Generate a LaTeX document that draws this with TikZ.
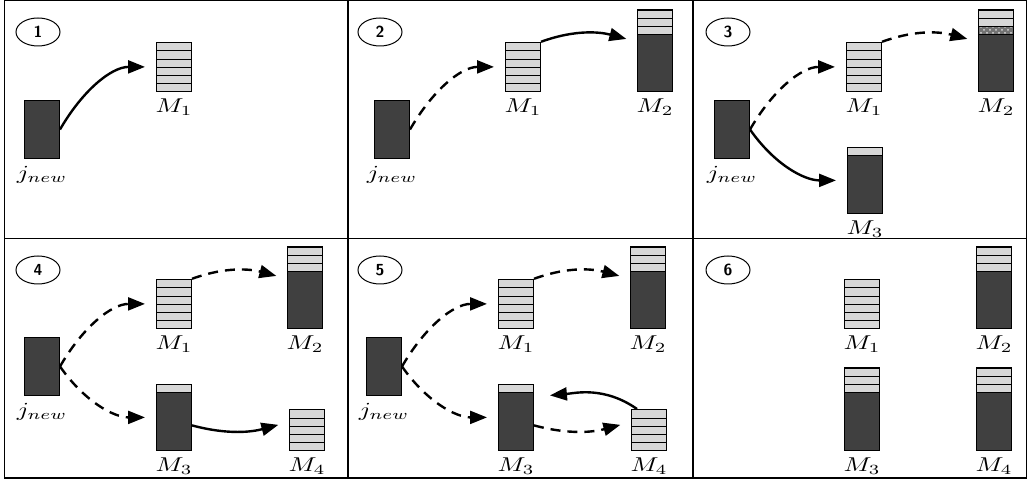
\documentclass[tikz,border=0pt]{standalone}
\usepackage{tikz}
\usetikzlibrary{shapes,arrows.meta,positioning,patterns}
\usepackage{xcolor}
\definecolor{slotgray}{HTML}{D7D7D7}
\definecolor{jobgray}{HTML}{404040}
\tikzstyle{slot} = [draw=black, fill=slotgray, line width=0.5pt]
\tikzstyle{jobbox} = [rectangle, draw=black, fill=jobgray, line width=0.5pt, minimum width=17.5pt, minimum height=29pt, inner sep=0pt]
\tikzstyle{machnode} = [rectangle, draw=black, line width=0.5pt, minimum width=17.5pt, inner sep=0pt]
\tikzstyle{stepnum} = [ellipse, draw=black, line width=0.5pt, minimum width=22pt, minimum height=14pt, inner sep=0pt, font=\sffamily\bfseries\fontsize{8}{9}\selectfont]
\tikzstyle{lbl} = [inner sep=1pt, font=\fontsize{10}{12}\selectfont, xscale=1.3, transform shape]
\tikzstyle{arrow} = [line width=1.2pt, -{Stealth[length=8.5pt, width=6.5pt, inset=0pt]}, shorten >=5.5pt]
\tikzstyle{darrow} = [arrow, dash pattern=on 5pt off 3.5pt]
% machine: name, left x, bottom y, free slots, job height
\newcommand{\machine}[5]{%
  \ifnum#5>0 \fill[jobgray] (#2,#3) rectangle ++(35,-#5); \fi
  \foreach \k in {1,...,#4}{\draw[slot] (#2,{#3-#5-(\k-1)*8.2}) rectangle ++(35,-8.2);}
  \node[machnode, minimum height={(#4*8.2+#5)*0.5pt}, anchor=south west] (#1) at (#2,#3) {};
}

\begin{document}
\begin{tikzpicture}[x=0.5pt, y=-0.5pt]
    \useasboundingbox (0,0) rectangle (1028,480);
    % Frame
    \draw[line width=0.8pt] (4.5,0.5) rectangle (1026.5,478);
    \draw[line width=0.8pt] (348,0.5) -- (348,478);
    \draw[line width=0.8pt] (693,0.5) -- (693,478);
    \draw[line width=0.8pt] (4.5,238.5) -- (1026.5,238.5);

    % Panel 1
    \node[stepnum] (n1) at (38,32) {1};
    \node[jobbox, anchor=south west] (j1) at (24,159) {};
    \machine{ma1}{156}{92}{6}{0}
    \node[lbl, below=2.5pt of j1] (lj1) {$j_{new}$};
    \node[lbl, below=2pt of ma1] (la1) {$M_1$};
    \draw[arrow] (j1.east) to[out=60, in=180] (ma1.west);

    % Panel 2
    \node[stepnum] (n2) at (380,32) {2};
    \node[jobbox, anchor=south west] (j2) at (374,159) {};
    \machine{mb1}{505}{92}{6}{0}
    \machine{mb2}{637}{92}{3}{57}
    \node[lbl, below=2.5pt of j2] (lj2) {$j_{new}$};
    \node[lbl, below=2pt of mb1] (lb1) {$M_1$};
    \node[lbl, below=2pt of mb2] (lb2) {$M_2$};
    \draw[darrow] (j2.east) to[out=60, in=180] (mb1.west);
    \draw[arrow] (mb1.north east) to[out=20, in=165] (mb2.west |- mb1.north);

    % Panel 3
    \node[stepnum] (n3) at (728,32) {3};
    \node[jobbox, anchor=south west] (j3) at (714,159) {};
    \machine{mc1}{846}{92}{6}{0}
    \machine{mc2}{978}{92}{3}{57}
    \fill[black!55] (978,35) rectangle ++(35,-8.2);
    \fill[pattern=crosshatch dots, pattern color=black!15] (978,35) rectangle ++(35,-8.2);
    \draw[line width=0.5pt] (978,35) rectangle ++(35,-8.2);
    \machine{mc3}{847}{214}{1}{58}
    \node[lbl, below=2.5pt of j3] (lj3) {$j_{new}$};
    \node[lbl, below=2pt of mc1] (lc1) {$M_1$};
    \node[lbl, below=2pt of mc2] (lc2) {$M_2$};
    \node[lbl, below=2pt of mc3] (lc3) {$M_3$};
    \draw[darrow] (j3.east) to[out=60, in=180] (mc1.west);
    \draw[darrow] (mc1.north east) to[out=20, in=165] (mc2.west |- mc1.north);
    \draw[arrow] (j3.east) to[out=-55, in=180] (mc3.west);

    % Panel 4
    \node[stepnum] (n4) at (38,270) {4};
    \node[jobbox, anchor=south west] (j4) at (24,396) {};
    \machine{md1}{156}{329}{6}{0}
    \machine{md2}{287}{329}{3}{57}
    \machine{md3}{156}{451}{1}{58}
    \machine{md4}{289}{451}{5}{0}
    \node[lbl, below=2.5pt of j4] (lj4) {$j_{new}$};
    \node[lbl, below=2pt of md1] (ld1) {$M_1$};
    \node[lbl, below=2pt of md2] (ld2) {$M_2$};
    \node[lbl, below=2pt of md3] (ld3) {$M_3$};
    \node[lbl, below=2pt of md4] (ld4) {$M_4$};
    \draw[darrow] (j4.east) to[out=60, in=180] (md1.west);
    \draw[darrow] (md1.north east) to[out=20, in=165] (md2.west |- md1.north);
    \draw[darrow] (j4.east) to[out=-55, in=180] (md3.west);
    \draw[arrow] ([yshift=-4pt]md3.east) to[out=-15, in=195] ([yshift=4pt]md4.west);

    % Panel 5
    \node[stepnum] (n5) at (380,270) {5};
    \node[jobbox, anchor=south west] (j5) at (366,396) {};
    \machine{me1}{498}{329}{6}{0}
    \machine{me2}{630}{329}{3}{57}
    \machine{me3}{498}{451}{1}{58}
    \machine{me4}{631}{451}{5}{0}
    \node[lbl, below=2.5pt of j5] (lj5) {$j_{new}$};
    \node[lbl, below=2pt of me1] (le1) {$M_1$};
    \node[lbl, below=2pt of me2] (le2) {$M_2$};
    \node[lbl, below=2pt of me3] (le3) {$M_3$};
    \node[lbl, below=2pt of me4] (le4) {$M_4$};
    \draw[darrow] (j5.east) to[out=60, in=180] (me1.west);
    \draw[darrow] (me1.north east) to[out=20, in=165] (me2.west |- me1.north);
    \draw[darrow] (j5.east) to[out=-55, in=180] (me3.west);
    \draw[darrow] ([yshift=-4pt]me3.east) to[out=-15, in=195] ([yshift=4pt]me4.west);
    \draw[arrow, shorten >=8pt] ([xshift=3pt]me4.north west) to[out=145, in=5] ([yshift=-6.5pt]me3.north east);

    % Panel 6
    \node[stepnum] (n6) at (728,270) {6};
    \machine{mf1}{844}{329}{6}{0}
    \machine{mf2}{976}{329}{3}{57}
    \machine{mf3}{844}{451}{3}{58}
    \machine{mf4}{976}{451}{3}{58}
    \node[lbl, below=2pt of mf1] (lf1) {$M_1$};
    \node[lbl, below=2pt of mf2] (lf2) {$M_2$};
    \node[lbl, below=2pt of mf3] (lf3) {$M_3$};
    \node[lbl, below=2pt of mf4] (lf4) {$M_4$};
\end{tikzpicture}
\end{document}
